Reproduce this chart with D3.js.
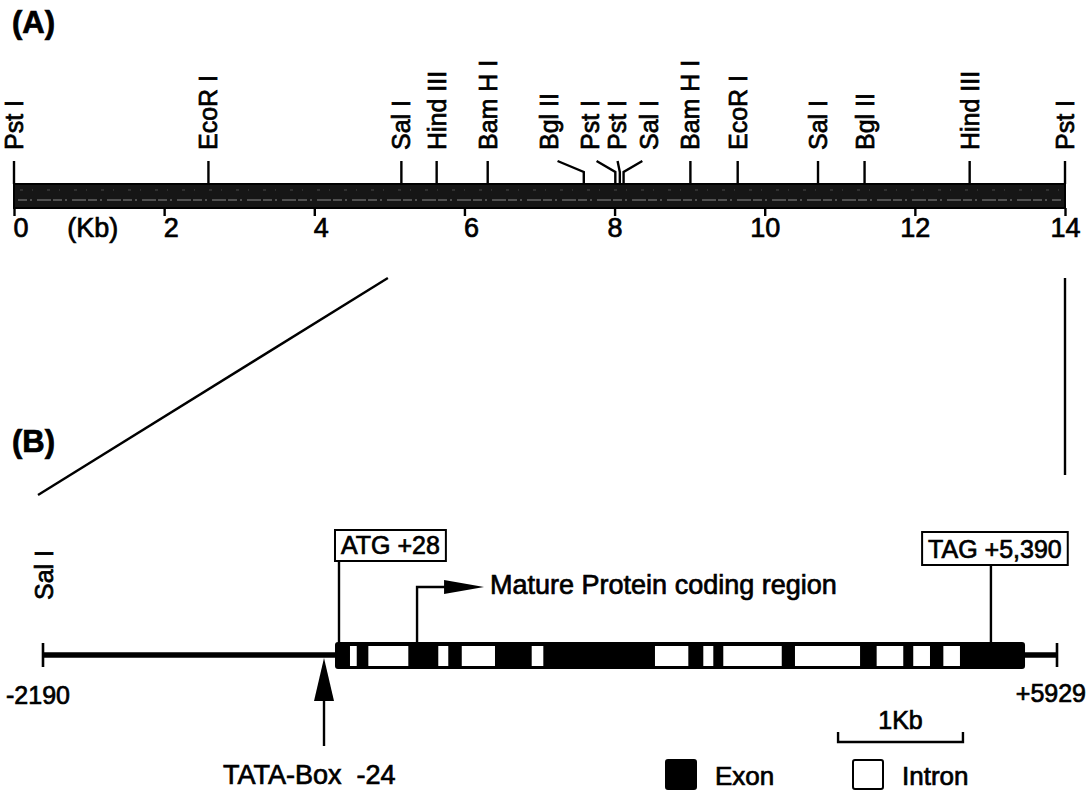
<!DOCTYPE html>
<html><head><meta charset="utf-8">
<script src="https://cdn.jsdelivr.net/npm/d3@7"></script>
<style>
html,body{margin:0;padding:0;background:#fff;}
svg{display:block;font-family:"Liberation Sans",Arial,Helvetica,sans-serif;}
text{fill:#000;stroke:#000;stroke-width:0.7px;}
</style></head><body>
<svg id="chart" width="1087" height="791"></svg>
<script>
// ---------- (A) restriction map data ----------
const siteNames = ["Pst I","EcoR I","Sal I","Hind III","Bam H I","Bgl II","Pst I","Pst I","Sal I","Bam H I","EcoR I","Sal I","Bgl II","Hind III","Pst I"];
const sitePositionsKb = [0, 2.59, 5.16, 5.63, 6.31, 7.59, 8.01, 8.07, 8.12, 9.01, 9.64, 10.71, 11.33, 12.73, 14];
const mapTicksKb = [0, 2, 4, 6, 8, 10, 12, 14];
const mapUnitLabel = "(Kb)";
const mapRangeKb = [0, 14];
const zoomedRegionKb = [4.98, 14];

// ---------- (B) gene structure data (bp, as drawn) ----------
const geneRangeBp = [-2190, 5929];
const geneEndLabels = ["-2190", "+5929"];
const transcriptSpanBp = [148, 5673];
const intronSpansBp = [[268,322],[415,735],[975,1055],[1163,1429],[1723,1816],[2710,2977],[3097,3177],[3257,3725],[3831,4352],[4485,4698],[4778,4912],[5019,5152]];
const featureLabels = ["ATG +28", "TAG +5,390", "TATA-Box\u00A0\u00A0-24", "Mature Protein coding region"];
const featurePosBp = [180, 5400, 60, 805];
const scaleBarBp = [4176, 5176];
const scaleBarLabel = "1Kb";
const legendLabels = ["Exon", "Intron"];
const legendFills = ["#000", "#fff"];
const panelLabels = ["(A)", "(B)"];
const geneSiteLabel = "Sal I";

// ---------- layout ----------
const svg = d3.select("#chart");
const xA = d3.scaleLinear().domain(mapRangeKb).range([14, 1065]);
const xB = d3.scaleLinear().domain(geneRangeBp).range([43, 1057]);
const LW = 2.4;

// ===== Panel A =====
svg.append("text").attr("x", 12).attr("y", 33).attr("font-size", 31).attr("font-weight", "bold").text(panelLabels[0]);

const barTop = 184, barH = 24;
const labelBottom = 150, connTop = 161, connKnee = 172;
const labelShift = {5: -35, 6: -25, 7: -3, 8: 25};

const sites = siteNames.map((n, i) => ({name: n, kb: sitePositionsKb[i], shift: labelShift[i] || 0}));
const gA = svg.append("g");
sites.forEach(s => {
  const sx = xA(s.kb), lx = sx + s.shift;
  gA.append("text")
    .attr("transform", `translate(${lx},${labelBottom}) rotate(-90)`)
    .attr("dy", "0.36em").attr("font-size", 25).text(s.name);
  const startX = lx + 0.25 * (sx - lx);
  gA.append("path")
    .attr("d", d3.line()([[startX, connTop], [sx, connKnee], [sx, barTop]]))
    .attr("fill", "none").attr("stroke", "#000").attr("stroke-width", LW);
});

// map bar
gA.append("rect").attr("x", xA(mapRangeKb[0])).attr("y", barTop)
  .attr("width", xA(mapRangeKb[1]) - xA(mapRangeKb[0])).attr("height", barH)
  .attr("fill", "#161616").attr("stroke", "#000").attr("stroke-width", 2);
gA.append("line").attr("x1", xA(0) + 4).attr("x2", xA(14) - 4)
  .attr("y1", barTop + 16).attr("y2", barTop + 16)
  .attr("stroke", "#8a8a8a").attr("stroke-width", 1).attr("stroke-dasharray", "9 3 2 5 14 2");
gA.append("line").attr("x1", xA(0) + 6).attr("x2", xA(14) - 6)
  .attr("y1", barTop + 6).attr("y2", barTop + 6)
  .attr("stroke", "#4a4a4a").attr("stroke-width", 1).attr("stroke-dasharray", "3 9 1 14");

// scale axis
const axisA = d3.axisBottom(xA).tickValues(mapTicksKb).tickSize(8).tickFormat(d3.format("d"));
const axG = svg.append("g").attr("transform", `translate(0,${barTop + barH})`).call(axisA);
axG.select(".domain").remove();
axG.selectAll(".tick line").attr("stroke", "#000").attr("stroke-width", LW);
axG.selectAll(".tick text")
  .attr("font-family", "Liberation Sans, Arial, sans-serif")
  .attr("font-size", 27).attr("fill", "#000").attr("y", 0).attr("dy", null)
  .attr("transform", "translate(0,10)")
  .attr("dominant-baseline", "hanging")
  .attr("text-anchor", d => d < 8 ? "start" : "middle")
  .attr("x", d => d < 8 ? -1 : 0);
svg.append("text").attr("x", xA(1.05)).attr("y", barTop + barH + 10).attr("dominant-baseline", "hanging")
  .attr("text-anchor", "middle").attr("font-size", 27).text(mapUnitLabel);

// ===== connecting lines =====
svg.append("line").attr("x1", xA(zoomedRegionKb[0])).attr("y1", 278)
  .attr("x2", xB(geneRangeBp[0]) - 5).attr("y2", 495)
  .attr("stroke", "#000").attr("stroke-width", LW);
svg.append("line").attr("x1", xA(zoomedRegionKb[1])).attr("y1", 278)
  .attr("x2", xA(zoomedRegionKb[1])).attr("y2", 475)
  .attr("stroke", "#000").attr("stroke-width", LW);

// ===== Panel B =====
svg.append("text").attr("x", 12).attr("y", 452).attr("font-size", 31).attr("font-weight", "bold").text(panelLabels[1]);

const geneY = 655, boxTop = 642, boxH = 27;
const gB = svg.append("g");

gB.append("text").attr("transform", `translate(${xB(geneRangeBp[0]) + 1},600) rotate(-90)`)
  .attr("dy", "0.36em").attr("font-size", 25).text(geneSiteLabel);

// flanking line
gB.append("line").attr("x1", xB(geneRangeBp[0])).attr("x2", xB(geneRangeBp[1]))
  .attr("y1", geneY).attr("y2", geneY).attr("stroke", "#000").attr("stroke-width", 5.5);
[geneRangeBp[0], geneRangeBp[1]].forEach(v => {
  gB.append("line").attr("x1", xB(v)).attr("x2", xB(v)).attr("y1", geneY - 12).attr("y2", geneY + 12)
    .attr("stroke", "#000").attr("stroke-width", 2.6);
});
// transcript box
gB.append("rect").attr("x", xB(transcriptSpanBp[0])).attr("y", boxTop)
  .attr("width", xB(transcriptSpanBp[1]) - xB(transcriptSpanBp[0])).attr("height", boxH)
  .attr("rx", 3).attr("fill", "#000");
gB.selectAll("rect.intron").data(intronSpansBp).join("rect").attr("class", "intron")
  .attr("x", d => xB(d[0])).attr("y", boxTop + 4)
  .attr("width", d => xB(d[1]) - xB(d[0])).attr("height", boxH - 7).attr("fill", "#fff");

gB.append("text").attr("x", xB(geneRangeBp[0]) - 37).attr("y", 704).attr("font-size", 25).text(geneEndLabels[0]);
gB.append("text").attr("x", 1086).attr("y", 702).attr("text-anchor", "end").attr("font-size", 25).text(geneEndLabels[1]);

// ATG / TAG boxes
function labelBox(label, lineX, leftOffset, boxY, boxHgt) {
  const t = gB.append("text").attr("font-size", 25).attr("y", boxY + boxHgt - 7).text(label);
  const w = t.node().getComputedTextLength();
  const bx = leftOffset === null ? lineX - (w + 14) / 2 + 5 : lineX + leftOffset;
  t.attr("x", bx + 6);
  gB.append("rect").attr("x", bx).attr("y", boxY).attr("width", w + 12).attr("height", boxHgt)
    .attr("fill", "none").attr("stroke", "#000").attr("stroke-width", 2);
  gB.append("line").attr("x1", lineX).attr("x2", lineX).attr("y1", boxY + boxHgt).attr("y2", boxTop)
    .attr("stroke", "#000").attr("stroke-width", LW);
}
labelBox(featureLabels[0], xB(featurePosBp[0]), -4, 530, 31);
labelBox(featureLabels[1], xB(featurePosBp[1]), null, 532, 33);

// mature protein arrow
const mx = xB(featurePosBp[3]), arrowY = 587;
gB.append("path").attr("d", d3.line()([[mx, boxTop], [mx, arrowY], [mx + 30, arrowY]]))
  .attr("fill", "none").attr("stroke", "#000").attr("stroke-width", LW);
gB.append("path").attr("d", d3.line()([[mx + 27, arrowY - 7], [mx + 67, arrowY], [mx + 27, arrowY + 7]]) + "Z")
  .attr("fill", "#000");
gB.append("text").attr("x", mx + 73).attr("y", 594).attr("font-size", 27).text(featureLabels[3]);

// TATA arrow
const tx = xB(featurePosBp[2]);
gB.append("path").attr("d", d3.line()([[tx, geneY + 3], [tx - 10, 701], [tx + 10, 701]]) + "Z").attr("fill", "#000");
gB.append("line").attr("x1", tx).attr("x2", tx).attr("y1", 699).attr("y2", 746)
  .attr("stroke", "#000").attr("stroke-width", LW);
gB.append("text").attr("x", tx - 101).attr("y", 784).attr("font-size", 27).text(featureLabels[2]);

// scale bar
const s0 = xB(scaleBarBp[0]), s1 = xB(scaleBarBp[1]);
gB.append("path").attr("d", d3.line()([[s0, 732], [s0, 742], [s1, 742], [s1, 732]]))
  .attr("fill", "none").attr("stroke", "#000").attr("stroke-width", 2.4);
gB.append("text").attr("x", (s0 + s1) / 2).attr("y", 729).attr("text-anchor", "middle").attr("font-size", 25).text(scaleBarLabel);

// legend
const legX = [666, 853];
legendLabels.forEach((lab, i) => {
  gB.append("rect").attr("x", legX[i]).attr("y", 760).attr("width", 30).attr("height", 29)
    .attr("rx", 2).attr("fill", legendFills[i]).attr("stroke", "#000").attr("stroke-width", 2);
  gB.append("text").attr("x", legX[i] + 49).attr("y", 785).attr("font-size", 26).text(lab);
});
</script>
</body></html>
